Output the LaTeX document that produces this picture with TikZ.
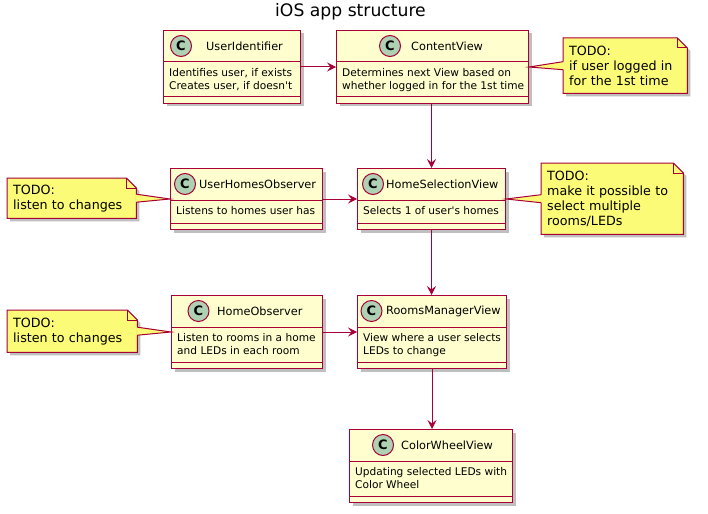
\documentclass[tikz,border=0pt]{standalone}
\usepackage{fontspec}
\setmainfont{DejaVu Sans}
\usetikzlibrary{shadows,backgrounds,arrows.meta}
\definecolor{umlred}{HTML}{A80036}
\definecolor{clsfill}{HTML}{FEFECE}
\definecolor{notefill}{HTML}{FBFB77}
\definecolor{circfill}{HTML}{ADD1B2}
\tikzset{
  shade/.style={drop shadow={shadow xshift=3pt,shadow yshift=-3pt,opacity=.25,fill=black}},
  cls/.style={draw=umlred,fill=clsfill,line width=1pt,inner sep=0pt,anchor=north west,shade},
  cname/.style={inner sep=0pt,anchor=west,font=\fontsize{11.3}{13}\selectfont},
  circ/.style={circle,draw=umlred,fill=circfill,line width=1pt,minimum size=21pt,inner sep=0pt,
    font=\bfseries\fontsize{13}{13}\selectfont},
  cbody/.style={inner sep=0pt,anchor=north west,align=left,font=\fontsize{10.6}{13}\selectfont},
  note/.style={inner xsep=6pt,inner ysep=0pt,anchor=north west,align=left,font=\fontsize{12.7}{15}\selectfont},
  notebox/.style={draw=umlred,fill=notefill,line width=1pt,shade},
  conn/.style={draw=umlred,line width=1pt},
  arr/.style={conn,-{Stealth[length=9pt,width=9pt,inset=3.5pt]}}
}
\begin{document}
\begin{tikzpicture}[x=1pt,y=-1pt]
\useasboundingbox (0,0) rectangle (708,513);
\node[font=\fontsize{17.2}{20}\selectfont,anchor=base] (title) at (350.5,17) {iOS app structure};

% classes
\node[cls,minimum width=137pt,minimum height=73pt] (uid) at (163,30) {};
\node[cls,minimum width=192pt,minimum height=73pt] (cv) at (336,30) {};
\node[cls,minimum width=152pt,minimum height=61pt] (uho) at (170,168) {};
\node[cls,minimum width=148pt,minimum height=61pt] (hsv) at (357,168) {};
\node[cls,minimum width=151pt,minimum height=73pt] (ho) at (171,295) {};
\node[cls,minimum width=149pt,minimum height=73pt] (rmv) at (357,295) {};
\node[cls,minimum width=163pt,minimum height=73pt] (cwv) at (349,429) {};
\foreach \c in {uid,cv,uho,hsv,ho,rmv,cwv}{
  \draw[conn] ([yshift=-32pt]\c.north west) -- ([yshift=-32pt]\c.north east);
  \draw[conn] ([yshift=7pt]\c.south west) -- ([yshift=7pt]\c.south east);
}

\node[circ] (uid-c) at ([xshift=18pt,yshift=-16pt]uid.north west) {C};
\node[cname] (uid-n) at ([xshift=43pt,yshift=-16pt]uid.north west) {UserIdentifier};
\node[cbody] (uid-b) at ([xshift=6pt,yshift=-38pt]uid.north west) {Identifies user, if exists\\Creates user, if doesn\textquotesingle t};

\node[circ] (cv-c) at ([xshift=54pt,yshift=-16pt]cv.north west) {C};
\node[cname] (cv-n) at ([xshift=75pt,yshift=-16pt]cv.north west) {ContentView};
\node[cbody] (cv-b) at ([xshift=6pt,yshift=-38pt]cv.north west) {Determines next View based on\\whether logged in for the 1st time};

\node[circ] (uho-c) at ([xshift=15pt,yshift=-16pt]uho.north west) {C};
\node[cname] (uho-n) at ([xshift=29pt,yshift=-16pt]uho.north west) {UserHomesObserver};
\node[cbody] (uho-b) at ([xshift=6pt,yshift=-38pt]uho.north west) {Listens to homes user has};

\node[circ] (hsv-c) at ([xshift=16pt,yshift=-16pt]hsv.north west) {C};
\node[cname] (hsv-n) at ([xshift=29pt,yshift=-16pt]hsv.north west) {HomeSelectionView};
\node[cbody] (hsv-b) at ([xshift=6pt,yshift=-38pt]hsv.north west) {Selects 1 of user\textquotesingle s homes};

\node[circ] (ho-c) at ([xshift=27.5pt,yshift=-16pt]ho.north west) {C};
\node[cname] (ho-n) at ([xshift=46pt,yshift=-16pt]ho.north west) {HomeObserver};
\node[cbody] (ho-b) at ([xshift=6pt,yshift=-38pt]ho.north west) {Listen to rooms in a home\\and LEDs in each room};

\node[circ] (rmv-c) at ([xshift=14.5pt,yshift=-16pt]rmv.north west) {C};
\node[cname] (rmv-n) at ([xshift=29pt,yshift=-16pt]rmv.north west) {RoomsManagerView};
\node[cbody] (rmv-b) at ([xshift=6pt,yshift=-38pt]rmv.north west) {View where a user selects\\LEDs to change};

\node[circ] (cwv-c) at ([xshift=34pt,yshift=-16pt]cwv.north west) {C};
\node[cname] (cwv-n) at ([xshift=52pt,yshift=-16pt]cwv.north west) {ColorWheelView};
\node[cbody] (cwv-b) at ([xshift=6pt,yshift=-38pt]cwv.north west) {Updating selected LEDs with\\Color Wheel};

% notes
\node[note,minimum width=124pt,minimum height=55pt,text width=112pt] (n1) at (563,38) {TODO:\\if user logged in\\for the 1st time};
\node[note,minimum width=142pt,minimum height=71pt,text width=130pt] (n2) at (541,163) {TODO:\\make it possible to\\select multiple\\rooms/LEDs};
\node[note,minimum width=129pt,minimum height=40pt,text width=117pt] (nl1) at (7,178) {TODO:\\listen to changes};
\node[note,minimum width=130pt,minimum height=42pt,text width=118pt] (nl2) at (7,310) {TODO:\\listen to changes};
\begin{scope}[on background layer]
\foreach \n in {n1,n2,nl1,nl2}{
  \draw[notebox] (\n.north west) -- ([xshift=-10pt]\n.north east) -- ([yshift=-10pt]\n.north east)
    -- (\n.south east) -- (\n.south west) -- cycle;
  \draw[conn] ([xshift=-10pt]\n.north east) -- ([xshift=-10pt,yshift=-10pt]\n.north east) -- ([yshift=-10pt]\n.north east);
}
\end{scope}
\foreach \n/\a/\c/\b/\d in {n1/west/cv/east/1,n2/west/hsv/east/1,nl1/east/uho/west/-1,nl2/east/ho/west/-1}{
  \fill[notefill] (\c.\b) -- ([xshift=\d pt,yshift=4pt]\n.\a) -- ([xshift=\d pt,yshift=-4pt]\n.\a) -- cycle;
  \draw[conn] ([yshift=4pt]\n.\a) -- (\c.\b) -- ([yshift=-4pt]\n.\a);
}

% links
\draw[arr] (uid.east) -- (uid.east -| cv.west);
\draw[arr] (hsv.north |- cv.south) -- (hsv.north);
\draw[arr] (uho.east) -- (uho.east -| hsv.west);
\draw[arr] (hsv.south) -- (hsv.south |- rmv.north);
\draw[arr] (ho.east) -- (ho.east -| rmv.west);
\draw[arr] (rmv.south) -- (rmv.south |- cwv.north);
\end{tikzpicture}
\end{document}
